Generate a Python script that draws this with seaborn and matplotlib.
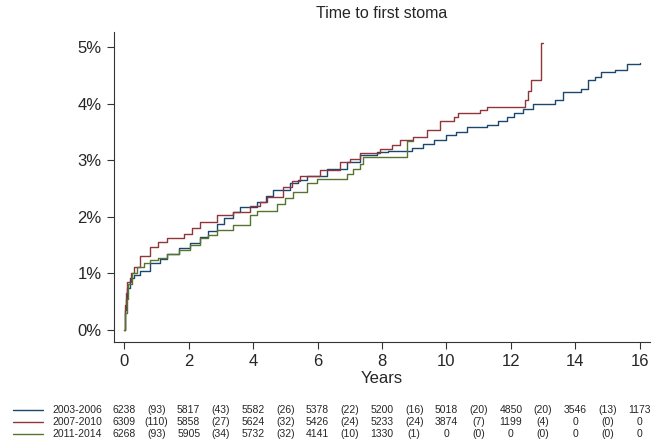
import pandas as pd
import matplotlib
matplotlib.use("Agg")
import matplotlib.pyplot as plt
import matplotlib.transforms as mtransforms
from matplotlib.lines import Line2D
import seaborn as sns

sns.set_theme(style="white")
plt.rcParams["font.family"] = ["Liberation Sans", "DejaVu Sans"]

# ---------------------------
# Data (cumulative incidence, %)
# ---------------------------
PERIODS = ["2003-2006", "2007-2010", "2011-2014"]
COLORS = ["#1a476f", "#90353b", "#55752f"]

T_2003 = [0, 0.02, 0.05, 0.1, 0.19, 0.29, 0.5, 0.81, 1.1, 1.32, 1.7, 2.05, 2.36, 2.6,
          2.87, 3.1, 3.39, 3.6, 4.11, 4.4, 4.63, 5.15, 5.4, 5.67, 6.28, 6.9, 7.32, 7.84,
          8.2, 8.92, 9.28, 9.6, 10.0, 10.3, 10.63, 11.25, 11.6, 11.87, 12.1, 12.38,
          12.69, 13.36, 13.62, 14.19, 14.4, 14.6, 14.81, 15.22, 15.59, 16.0]
V_2003 = [0, 0.35, 0.55, 0.75, 0.92, 0.97, 1.05, 1.18, 1.25, 1.35, 1.45, 1.53, 1.65, 1.75,
          1.88, 1.98, 2.09, 2.17, 2.26, 2.36, 2.47, 2.59, 2.66, 2.73, 2.85, 2.97, 3.09, 3.15,
          3.17, 3.22, 3.29, 3.35, 3.44, 3.5, 3.59, 3.62, 3.7, 3.76, 3.83, 3.91,
          4.0, 4.06, 4.2, 4.26, 4.41, 4.48, 4.56, 4.6, 4.7, 4.72]

T_2007 = [0, 0.01, 0.05, 0.1, 0.2, 0.29, 0.5, 0.81, 1.05, 1.32, 1.84, 2.1, 2.36, 2.87,
          3.39, 3.91, 4.2, 4.42, 4.94, 5.2, 5.46, 6.08, 6.7, 7.0, 7.32, 7.94, 8.3, 8.56,
          8.97, 9.39, 9.8, 10.22, 10.37, 11.04, 11.25, 12.43, 12.54, 12.64, 12.92, 13.0]
V_2007 = [0, 0.45, 0.65, 0.85, 1.0, 1.12, 1.3, 1.47, 1.55, 1.62, 1.7, 1.8, 1.91, 2.03,
          2.09, 2.2, 2.27, 2.35, 2.53, 2.63, 2.73, 2.82, 2.97, 3.03, 3.12, 3.2, 3.27, 3.35,
          3.41, 3.53, 3.7, 3.76, 3.83, 3.89, 3.94, 4.07, 4.23, 4.42, 5.07, 5.07]

T_2011 = [0, 0.03, 0.07, 0.13, 0.25, 0.39, 0.6, 0.81, 1.05, 1.32, 1.7, 2.05, 2.36, 2.6,
          2.87, 3.39, 3.91, 4.11, 4.73, 5.0, 5.25, 5.67, 5.98, 6.9, 7.1, 7.32, 7.42,
          8.77, 8.97]
V_2011 = [0, 0.3, 0.55, 0.82, 1.0, 1.12, 1.18, 1.23, 1.28, 1.35, 1.42, 1.5, 1.62, 1.68,
          1.76, 1.85, 2.03, 2.1, 2.23, 2.33, 2.44, 2.59, 2.67, 2.76, 2.85, 2.94, 3.05,
          3.34, 3.34]

# Risk table: number at risk at 0,2,...,16 and events in between
TABLE_YEARS = [0, 2, 4, 6, 8, 10, 12, 14, 16]
AT_RISK = {
    "2003-2006": [6238, 5817, 5582, 5378, 5200, 5018, 4850, 3546, 1173],
    "2007-2010": [6309, 5858, 5624, 5426, 5233, 3874, 1199, 0, 0],
    "2011-2014": [6268, 5905, 5732, 4141, 1330, 0, 0, 0, 0],
}
EVENTS = {
    "2003-2006": [93, 43, 26, 22, 16, 20, 20, 13],
    "2007-2010": [110, 27, 32, 24, 24, 7, 4, 0],
    "2011-2014": [93, 34, 32, 10, 1, 0, 0, 0],
}

frames = []
for name, t, v in [("2003-2006", T_2003, V_2003),
                   ("2007-2010", T_2007, V_2007),
                   ("2011-2014", T_2011, V_2011)]:
    frames.append(pd.DataFrame({"years": t, "inc": v, "period": name}))
df = pd.concat(frames, ignore_index=True)

# ---------------------------
# Plot
# ---------------------------
fig = plt.figure(figsize=(6.53, 4.40), dpi=100)
ax = fig.add_axes([0.175, 0.223, 0.82, 0.704])

sns.lineplot(data=df, x="years", y="inc", hue="period", hue_order=PERIODS,
             palette=COLORS, drawstyle="steps-post", estimator=None, sort=False,
             linewidth=1.0, legend=False, ax=ax)

ax.set_xlim(-0.31, 16.31)
ax.set_ylim(-0.21, 5.265)
ax.set_xticks(range(0, 17, 2))
ax.set_yticks(range(0, 6))
ax.set_yticklabels([f"{i}%" for i in range(0, 6)])
ax.tick_params(axis="both", labelsize=12, length=5, width=0.8, color="#333333",
               pad=4, left=True, bottom=True)
ax.set_xlabel("Years", fontsize=12, labelpad=1)
ax.set_ylabel("")
ax.set_title("Time to first stoma", fontsize=11.5, pad=10)
sns.despine(ax=ax)
for s in ["left", "bottom"]:
    ax.spines[s].set_color("#333333")
    ax.spines[s].set_linewidth(0.8)
ax.grid(False)

# risk table below
trans = mtransforms.blended_transform_factory(ax.transData, fig.transFigure)
row_y = [0.068, 0.041, 0.014]
for i, name in enumerate(PERIODS):
    y = row_y[i]
    fig.add_artist(Line2D([13 / 653, 43 / 653], [y, y], color=COLORS[i], lw=1.0,
                          transform=fig.transFigure))
    fig.text(52 / 653, y, name, fontsize=7.5, va="center", ha="left")
    for x, n in zip(TABLE_YEARS, AT_RISK[name]):
        ax.text(x, y, str(n), fontsize=7.5, va="center", ha="center",
                transform=trans, clip_on=False)
    for j, e in enumerate(EVENTS[name]):
        xm = (TABLE_YEARS[j] + TABLE_YEARS[j + 1]) / 2
        ax.text(xm, y, f"({e})", fontsize=7.5, va="center", ha="center",
                transform=trans, clip_on=False)

fig.savefig("out.png", dpi=100)
plt.close(fig)
